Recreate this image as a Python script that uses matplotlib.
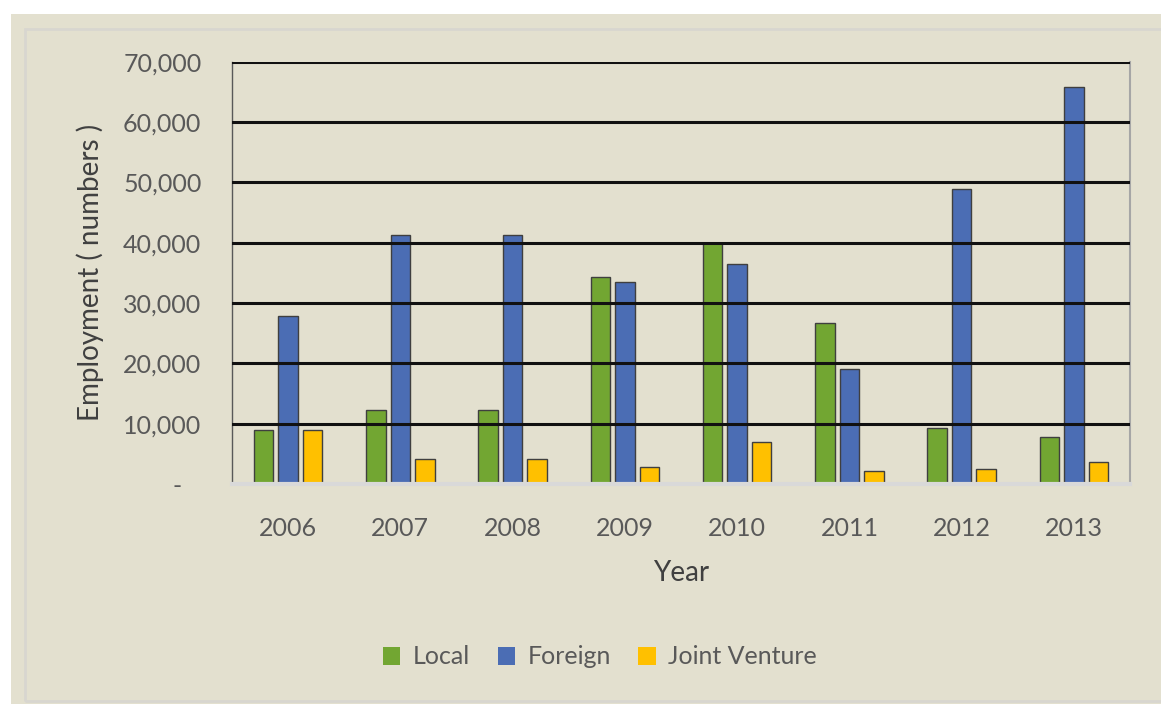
import numpy as np
import matplotlib.pyplot as plt
from matplotlib.patches import Rectangle
from matplotlib.ticker import FuncFormatter

# employment by ownership type, 2006-2013
years = ["2006", "2007", "2008", "2009", "2010", "2011", "2012", "2013"]
local = [9000, 12200, 12200, 34300, 39900, 26700, 9300, 7800]
foreign = [27900, 41300, 41200, 33500, 36400, 19000, 48900, 65800]
joint_venture = [9000, 4100, 4100, 2900, 6900, 2100, 2500, 3700]

bg = "#E3E0CF"
plt.rcParams["font.family"] = ["Lato", "DejaVu Sans"]

fig = plt.figure(figsize=(11.61, 7.04), dpi=100, facecolor="white")

# panel background with its light inner frame
fig.patches.append(Rectangle((11 / 1161, 0), 1, 1 - 14 / 704, transform=fig.transFigure,
                             facecolor=bg, edgecolor="none", zorder=-10))
fig.patches.append(Rectangle((25 / 1161, 3 / 704), 1, 1 - 32 / 704, transform=fig.transFigure,
                             facecolor="none", edgecolor="#D8D6D0", linewidth=2, zorder=-9))

ax = fig.add_axes([232 / 1161, 1 - 484 / 704, (1130 - 232) / 1161, (484 - 61.7) / 704])
ax.set_facecolor(bg)

x = np.arange(len(years))
w = 0.174
off = 0.218
ax.bar(x - off, local, w, color="#72A632", edgecolor="#3F3F3F", linewidth=1, label="Local", zorder=2)
ax.bar(x, foreign, w, color="#4B6DB4", edgecolor="#3F3F3F", linewidth=1, label="Foreign", zorder=2)
ax.bar(x + off, joint_venture, w, color="#FFC000", edgecolor="#3F3F3F", linewidth=1,
       label="Joint Venture", zorder=2)

ax.set_xlim(-0.5, len(years) - 0.5)
ax.set_ylim(0, 70000)
ax.set_yticks(np.arange(0, 70001, 10000))
ax.yaxis.set_major_formatter(FuncFormatter(lambda v, p: "-   " if v == 0 else f"{int(v):,}"))
ax.set_xticks(x)
ax.set_xticklabels(years)

# gridlines sit on top of the bars
for v in range(10000, 70001, 10000):
    ax.axhline(v, color="#111111", linewidth=2.2, zorder=3)

ax.tick_params(axis="both", length=0, labelsize=18, labelcolor="#595959")
ax.tick_params(axis="y", pad=22)
ax.tick_params(axis="x", pad=24)

ax.spines["top"].set_visible(False)
ax.spines["left"].set_color("#595959")
ax.spines["left"].set_linewidth(1)
ax.spines["right"].set_color("#A6A6A6")
ax.spines["right"].set_linewidth(1.5)
ax.spines["bottom"].set_color("#D9D9D9")
ax.spines["bottom"].set_linewidth(3)

ax.set_xlabel("Year", fontsize=20, color="#404040", labelpad=14)
ax.set_ylabel("Employment ( numbers )", fontsize=20, color="#404040", labelpad=14)

leg = fig.legend(loc="center", bbox_to_anchor=(600 / 1161, 1 - 657 / 704), ncol=3, frameon=False,
                 fontsize=18, handlelength=0.7, handleheight=0.7, handletextpad=0.5,
                 columnspacing=1.1)
for t in leg.get_texts():
    t.set_color("#595959")
for h in leg.legend_handles:
    h.set_edgecolor("none")

fig.savefig("out.png", dpi=100, facecolor=fig.get_facecolor())
